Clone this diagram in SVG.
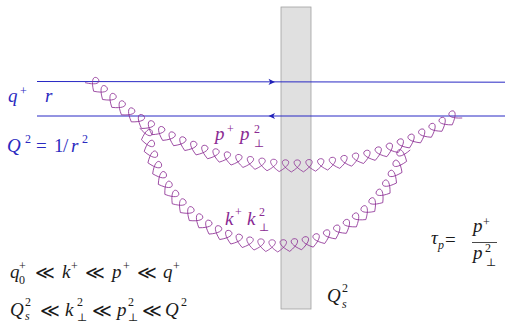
<svg xmlns="http://www.w3.org/2000/svg" width="505" height="325" viewBox="0 0 505 325" font-family="Liberation Serif, DejaVu Serif, serif">
<style>
text{font-family:"Liberation Serif","DejaVu Serif",serif}
.m{font-style:italic;font-size:19px}
.n{font-style:normal}
.s{font-size:12px}
.t{font-size:11px;font-style:normal}
.blue{fill:#2a2ac0}
.pur{fill:#8a2a92}
.blk{fill:#1a1a1a}
.g{fill:none;stroke:#8a2a92;stroke-width:0.75}
.ln{stroke:#2828c4;stroke-width:1;fill:none}
.ah{fill:#2020b8}
</style>
<defs>
<path id="lp" d="M289,0 C272.457,25.658 273.295,-14.183 288.745,12.148"/>
<path id="lk" d="M138,0 C120.887,25.282 122.624,-14.709 137.481,11.961"/>
</defs>
<rect id="shockwave" x="281" y="7" width="30" height="302" fill="#e0e0e0" stroke="#a0a0a0" stroke-width="0.8"/>
<g id="connectors">
<line class="ln" x1="37" y1="81.5" x2="505" y2="82.2"/>
<path class="ah" d="M275,81.9 L268.5,78.8 L270.2,81.9 L268.5,85 Z"/>
<line class="ln" x1="37" y1="116" x2="505" y2="116"/>
<path class="ah" d="M268.5,116 L275,112.9 L273.3,116 L275,119.1 Z"/>
<g id="gluon-p" class="g" transform="translate(294,-117)">
<use href="#lp" transform="rotate(54.4)"/><use href="#lp" transform="rotate(56.809)"/><use href="#lp" transform="rotate(59.218)"/><use href="#lp" transform="rotate(61.627)"/><use href="#lp" transform="rotate(64.036)"/><use href="#lp" transform="rotate(66.445)"/><use href="#lp" transform="rotate(68.854)"/><use href="#lp" transform="rotate(71.263)"/><use href="#lp" transform="rotate(73.672)"/><use href="#lp" transform="rotate(76.081)"/><use href="#lp" transform="rotate(78.49)"/><use href="#lp" transform="rotate(80.899)"/><use href="#lp" transform="rotate(83.308)"/><use href="#lp" transform="rotate(85.717)"/><use href="#lp" transform="rotate(88.126)"/><use href="#lp" transform="rotate(90.535)"/><use href="#lp" transform="rotate(92.944)"/><use href="#lp" transform="rotate(95.353)"/><use href="#lp" transform="rotate(97.762)"/><use href="#lp" transform="rotate(100.171)"/><use href="#lp" transform="rotate(102.58)"/><use href="#lp" transform="rotate(104.989)"/><use href="#lp" transform="rotate(107.398)"/><use href="#lp" transform="rotate(109.807)"/><use href="#lp" transform="rotate(112.216)"/><use href="#lp" transform="rotate(114.625)"/><use href="#lp" transform="rotate(117.034)"/><use href="#lp" transform="rotate(119.443)"/><use href="#lp" transform="rotate(121.852)"/><use href="#lp" transform="rotate(124.261)"/><use href="#lp" transform="rotate(126.67)"/><use href="#lp" transform="rotate(129.079)"/><use href="#lp" transform="rotate(131.488)"/><use href="#lp" transform="rotate(133.897)"/>
</g>
<g id="gluon-k" class="g" transform="translate(277,114)">
<use href="#lk" transform="rotate(15.1)"/><use href="#lk" transform="rotate(20.072)"/><use href="#lk" transform="rotate(25.044)"/><use href="#lk" transform="rotate(30.016)"/><use href="#lk" transform="rotate(34.988)"/><use href="#lk" transform="rotate(39.96)"/><use href="#lk" transform="rotate(44.932)"/><use href="#lk" transform="rotate(49.904)"/><use href="#lk" transform="rotate(54.876)"/><use href="#lk" transform="rotate(59.848)"/><use href="#lk" transform="rotate(64.82)"/><use href="#lk" transform="rotate(69.792)"/><use href="#lk" transform="rotate(74.764)"/><use href="#lk" transform="rotate(79.736)"/><use href="#lk" transform="rotate(84.708)"/><use href="#lk" transform="rotate(89.68)"/><use href="#lk" transform="rotate(94.652)"/><use href="#lk" transform="rotate(99.624)"/><use href="#lk" transform="rotate(104.596)"/><use href="#lk" transform="rotate(109.568)"/><use href="#lk" transform="rotate(114.54)"/><use href="#lk" transform="rotate(119.512)"/><use href="#lk" transform="rotate(124.484)"/><use href="#lk" transform="rotate(129.456)"/><use href="#lk" transform="rotate(134.428)"/><use href="#lk" transform="rotate(139.4)"/><use href="#lk" transform="rotate(144.372)"/><use href="#lk" transform="rotate(149.344)"/><use href="#lk" transform="rotate(154.316)"/><use href="#lk" transform="rotate(159.288)"/><use href="#lk" transform="rotate(164.26)"/><use href="#lk" transform="rotate(169.232)"/>
</g>
</g>
<g id="label-q" class="m blue">
<text x="8" y="102">q</text><text class="s n" x="20" y="95">+</text>
<text x="45" y="102">r</text>
<text x="7" y="152">Q</text><text class="s n" x="25" y="143">2</text>
<text class="n" x="36" y="152">=</text><text class="n" x="54" y="152">1</text><text class="n" x="63" y="152">/</text>
<text x="71" y="152">r</text><text class="s n" x="82" y="143">2</text>
</g>
<g id="label-p" class="m pur">
<text x="215" y="140">p</text><text class="s n" x="227" y="133">+</text>
<text x="240" y="140">p</text><text class="s n" x="254" y="133">2</text><text class="t" x="254" y="147">⊥</text>
</g>
<g id="label-k" class="m pur">
<text x="225" y="225">k</text><text class="s n" x="235" y="216">+</text>
<text x="247" y="225">k</text><text class="s n" x="259" y="216">2</text><text class="t" x="259" y="231">⊥</text>
</g>
<g id="label-tau" class="m blk">
<text x="431" y="244">τ</text><text class="s" x="438" y="249">p</text>
<text class="n" x="445" y="246">=</text>
<text x="473" y="232">p</text><text class="s n" x="483" y="226">+</text>
<line x1="472" y1="242.5" x2="497" y2="242.5" stroke="#1a1a1a" stroke-width="0.8"/>
<text x="473" y="259">p</text><text class="s n" x="485" y="252">2</text><text class="t" x="486" y="266">⊥</text>
</g>
<g id="label-qs" class="m blk">
<text x="327" y="302">Q</text><text class="s n" x="342" y="292">2</text><text class="s" x="342" y="308">s</text>
</g>
<g id="formula-plus" class="m blk">
<text x="10" y="278">q</text><text class="s n" x="19" y="270">+</text><text class="s n" x="19" y="284">0</text>
<text class="n" x="35" y="279">≪</text>
<text x="62" y="278">k</text><text class="s n" x="71" y="270">+</text>
<text class="n" x="85" y="279">≪</text>
<text x="112" y="278">p</text><text class="s n" x="123" y="270">+</text>
<text class="n" x="137" y="279">≪</text>
<text x="163" y="278">q</text><text class="s n" x="173" y="270">+</text>
</g>
<g id="formula-perp" class="m blk">
<text x="10" y="316">Q</text><text class="s n" x="25" y="306">2</text><text class="s" x="25" y="320">s</text>
<text class="n" x="40" y="317">≪</text>
<text x="65" y="316">k</text><text class="s n" x="77" y="306">2</text><text class="t" x="77" y="321">⊥</text>
<text class="n" x="92" y="317">≪</text>
<text x="117" y="316">p</text><text class="s n" x="128" y="306">2</text><text class="t" x="128" y="321">⊥</text>
<text class="n" x="142" y="317">≪</text>
<text x="165" y="316">Q</text><text class="s n" x="181" y="306">2</text>
</g>
</svg>
